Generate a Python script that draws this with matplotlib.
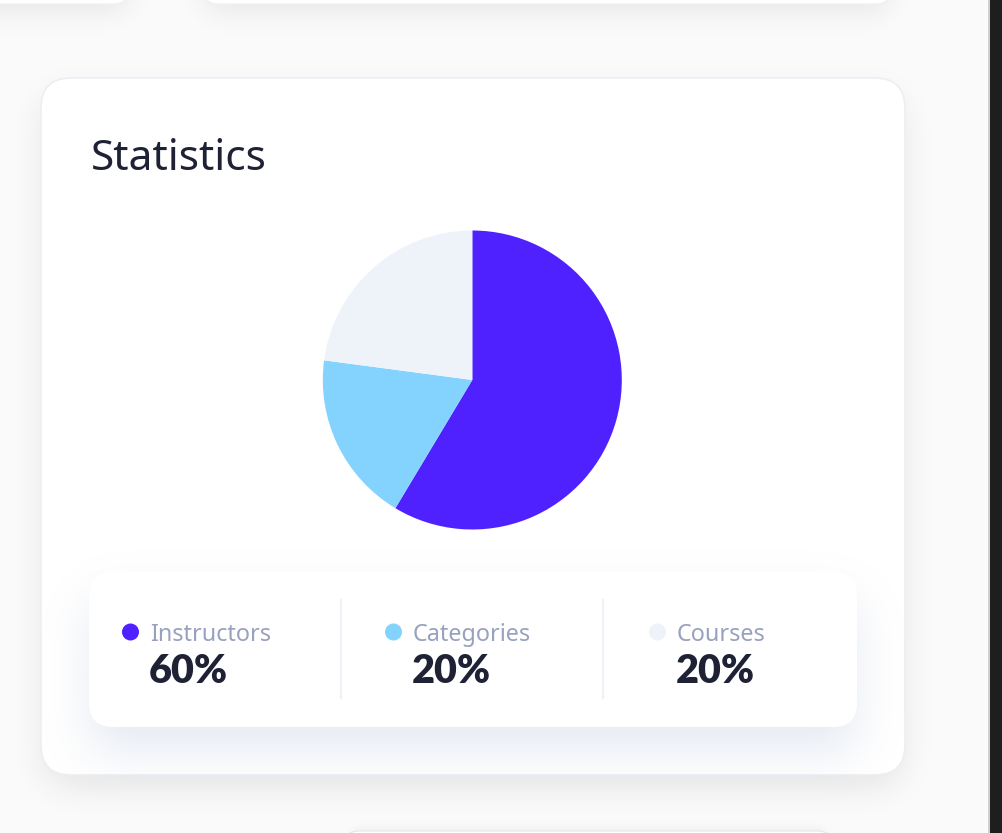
import matplotlib
matplotlib.use('Agg')
import numpy as np
import matplotlib.pyplot as plt
from matplotlib.patches import FancyBboxPatch, Circle, Rectangle
from matplotlib.colors import to_rgb

# data
labels = ['Instructors', 'Categories', 'Courses']
pie_values = [58.6, 18.5, 22.9]   # slice sizes as drawn
shown_pct = ['60%', '20%', '20%']  # text printed under the chart
colors = ['#4f21ff', '#84d3ff', '#eef3fa']

W, H = 1003, 833
plt.rcParams['font.family'] = ['Noto Sans', 'DejaVu Sans']

fig = plt.figure(figsize=(W / 100, H / 100), dpi=100)
fig.patch.set_facecolor('#fafafa')
bg = fig.add_axes([0, 0, 1, 1])
bg.set_xlim(0, W)
bg.set_ylim(H, 0)
bg.axis('off')

YY, XX = np.mgrid[0:H, 0:W] + 0.5


def rmask(x, y, w, h, r):
    dx = np.maximum(np.maximum(x + r - XX, XX - (x + w - r)), 0)
    dy = np.maximum(np.maximum(y + r - YY, YY - (y + h - r)), 0)
    return (dx ** 2 + dy ** 2 <= r ** 2).astype(float)


def blur(a, s):
    n = int(3 * s)
    k = np.exp(-0.5 * (np.arange(-n, n + 1) / s) ** 2)
    k /= k.sum()
    a = np.pad(a, n, mode='edge')
    a = np.apply_along_axis(lambda v: np.convolve(v, k, mode='same'), 0, a)
    a = np.apply_along_axis(lambda v: np.convolve(v, k, mode='same'), 1, a)
    return a[n:-n, n:-n]


def shadow_img(boxes, color, opacity, z):
    m = np.zeros((H, W))
    for (x, y, w, h, r, dy, s) in boxes:
        m = np.maximum(m, blur(rmask(x, y + dy, w, h, r), s))
    img = np.zeros((H, W, 4))
    img[..., :3] = to_rgb(color)
    img[..., 3] = m * opacity
    bg.imshow(img, extent=(0, W, H, 0), zorder=z, interpolation='none', aspect='auto')


def rbox(x, y, w, h, r, z, **kw):
    p = FancyBboxPatch((x, y), w, h, boxstyle=f'round,pad=0,rounding_size={r}', zorder=z, **kw)
    bg.add_patch(p)


# page shadows (top cards, main card, bottom card)
shadow_img([(-60, -60, 188, 64, 14, 8, 14),
            (204, -60, 686, 64, 14, 8, 14),
            (41, 78, 864, 697, 30, 14, 16),
            (345, 831, 487, 60, 14, 0, 6)], '#000000', 0.075, 1)
rbox(-60, -60, 188, 64, 14, 2, facecolor='white', edgecolor='#f0f0f0', lw=0.8)
rbox(204, -60, 686, 64, 14, 2, facecolor='white', edgecolor='#f0f0f0', lw=0.8)
rbox(345, 831, 487, 60, 14, 2, facecolor='white', edgecolor='#e6e6e6', lw=0.8)

# main card
rbox(41, 78, 864, 697, 30, 3, facecolor='white', edgecolor='#ededf5', lw=1.2)

# legend box with its bluish shadow
shadow_img([(89, 572, 768, 155, 24, 26, 22)], '#aebfd8', 0.3, 4)
rbox(89, 572, 768, 155, 24, 5, facecolor='white', edgecolor='none')

# right dark strip
bg.add_patch(Rectangle((988, 0), 2, H, facecolor='#d0d0d0', edgecolor='none', zorder=6))
bg.add_patch(Rectangle((990, 0), 13, H, facecolor='#1e1e1e', edgecolor='none', zorder=6))

bg.text(91, 170, 'Statistics', fontsize=30.6, color='#1f2235', va='baseline', zorder=7)

# pie
cx, cy, rad = 472.3, 380, 149.5
pax = fig.add_axes([(cx - rad) / W, 1 - (cy + rad) / H, 2 * rad / W, 2 * rad / H])
pax.pie(pie_values, colors=colors, startangle=90, counterclock=False,
        wedgeprops=dict(linewidth=0))
pax.set_xlim(-1, 1)
pax.set_ylim(-1, 1)
pax.axis('off')

# legend entries
col_x = [150, 413, 677]
for i, (lab, pct) in enumerate(zip(labels, shown_pct)):
    x = col_x[i]
    bg.add_patch(Circle((x - 19.5, 632), 8.5, facecolor=colors[i], edgecolor='none', zorder=7))
    bg.text(x, 641, lab, fontsize=16.8, color='#98a1bd', va='baseline', zorder=7)
    bg.text(x - 1, 683, pct, fontsize=28.5, color='#1f2235', fontweight='heavy',
            family=['Lato', 'DejaVu Sans'], va='baseline', zorder=7)

for dx in [341, 603]:
    bg.plot([dx, dx], [600, 698], color='#eef2f8', lw=1.5, zorder=7)

fig.savefig('out.png', dpi=100, facecolor=fig.get_facecolor())
